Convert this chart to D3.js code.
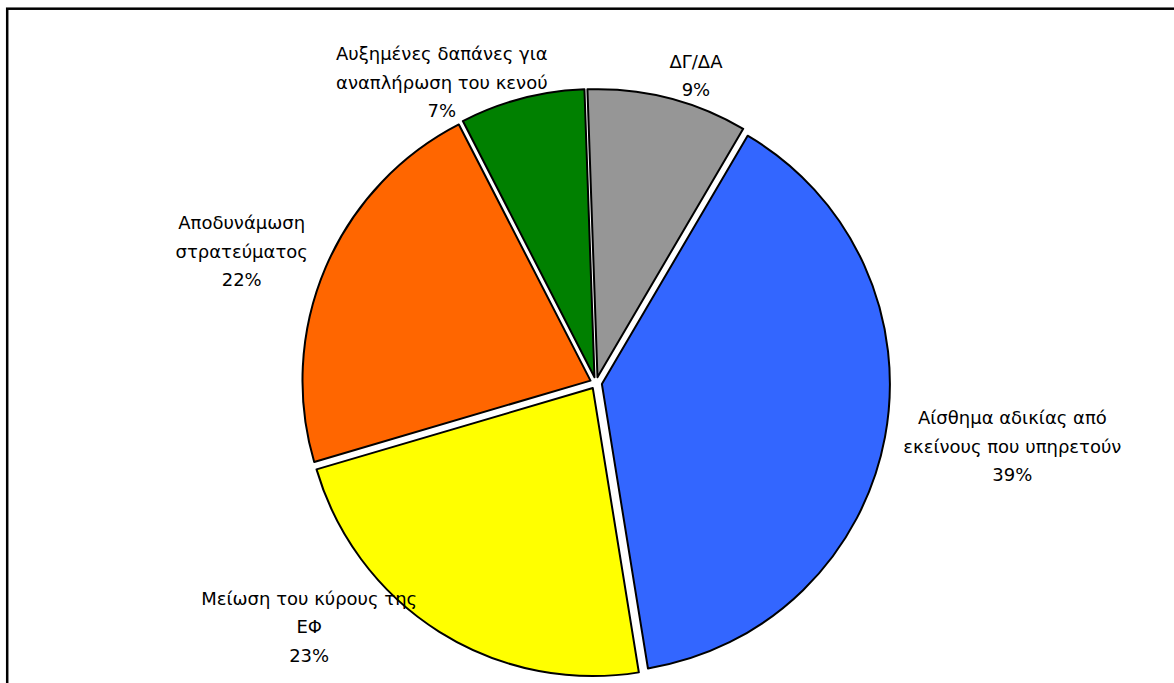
<!DOCTYPE html>
<html>
<head>
<meta charset="utf-8">
<script src="https://cdn.jsdelivr.net/npm/d3@7/dist/d3.min.js"></script>
<style>
  html, body { margin: 0; padding: 0; background: #fff; }
  svg { display: block; }
  text { font-family: "DejaVu Sans", Tahoma, Verdana, sans-serif; font-size: 18px; fill: #000; }
</style>
</head>
<body>
<div id="chart"></div>
<script>
/* ---------- data ---------- */
const categories = [
  ["ΔΓ/ΔΑ"],
  ["Αίσθημα αδικίας από", "εκείνους που υπηρετούν"],
  ["Μείωση του κύρους της", "ΕΦ"],
  ["Αποδυνάμωση", "στρατεύματος"],
  ["Αυξημένες δαπάνες για", "αναπλήρωση του κενού"]
];
const values = [9, 39, 23, 22, 7];
const colors = ["#969696", "#3366FF", "#FFFF00", "#FF6600", "#008000"];

/* ---------- layout ---------- */
const W = 1174, H = 683;
const cx = 596, cy = 383, R = 288, explode = 6;
const startDeg = -2;
// label nudges from the centroid on the label ring (Excel placed them freely)
const labelR = 330;
const labelNudge = [[19, 13], [92, 3], [-111, -35], [-51, -1], [-71, 19]];
const lineH = 28.5;

const svg = d3.select("#chart").append("svg")
  .attr("width", W).attr("height", H);

// chart area frame (runs off the right/bottom edge)
svg.append("rect")
  .attr("x", 7.2).attr("y", 8.7)
  .attr("width", W + 20).attr("height", H + 20)
  .attr("fill", "none").attr("stroke", "#000").attr("stroke-width", 2.5);

const pie = d3.pie().sort(null)
  .startAngle(startDeg * Math.PI / 180)
  .endAngle((startDeg + 360) * Math.PI / 180);
const arcs = pie(values);

const arc = d3.arc().innerRadius(0).outerRadius(R);
const ring = d3.arc().innerRadius(labelR).outerRadius(labelR);

const g = svg.append("g").attr("transform", `translate(${cx},${cy})`);

g.selectAll("path")
  .data(arcs)
  .enter()
  .append("path")
  .attr("d", arc)
  .attr("transform", d => {
    const a = (d.startAngle + d.endAngle) / 2;
    return `translate(${Math.sin(a) * explode},${-Math.cos(a) * explode})`;
  })
  .attr("fill", (d, i) => colors[i])
  .attr("stroke", "#000")
  .attr("stroke-width", 2)
  .attr("stroke-linejoin", "round");

// labels: name lines + percent
const labels = g.selectAll("text.lbl")
  .data(arcs)
  .enter()
  .append("text")
  .attr("class", "lbl")
  .attr("text-anchor", "middle")
  .attr("transform", (d, i) => {
    const [x, y] = ring.centroid(d);
    return `translate(${x + labelNudge[i][0]},${y + labelNudge[i][1]})`;
  });

labels.each(function (d, i) {
  const lines = categories[i].concat([values[i] + "%"]);
  const t = d3.select(this);
  const y0 = -(lines.length - 1) * lineH / 2 + 6;
  lines.forEach((s, k) => {
    t.append("tspan").attr("x", 0).attr("y", y0 + k * lineH).text(s);
  });
});
</script>
</body>
</html>
